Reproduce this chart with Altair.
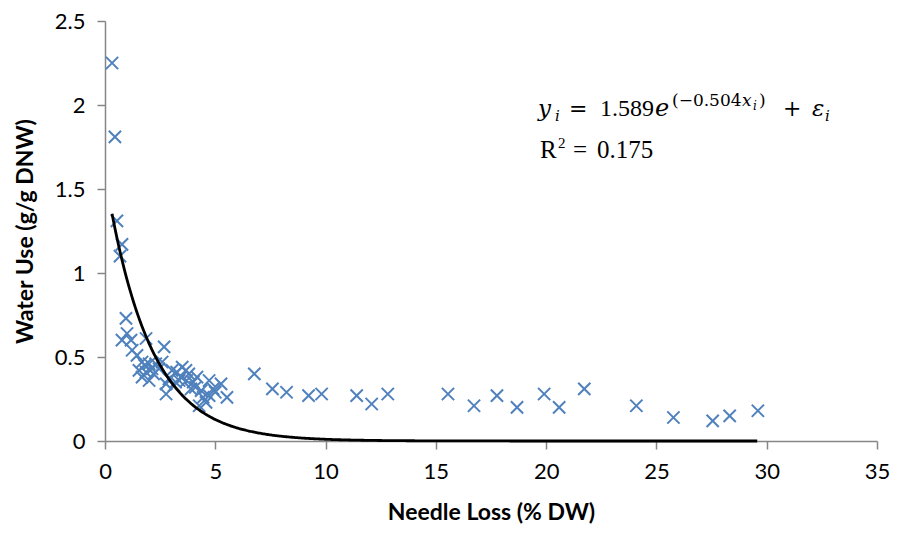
import altair as alt
import pandas as pd

# Data
needle_loss = [0.32, 0.45, 0.54, 0.77, 0.68, 0.95,
               1.00, 0.77, 1.18, 1.86, 2.68, 1.23, 1.45,
               1.68, 2.00, 2.30, 1.54, 1.86, 2.13, 2.45,
               1.68, 2.00, 3.04, 2.77, 3.13, 2.77, 2.59,
               3.25, 3.50, 3.80, 4.17, 2.90, 3.36, 4.72, 5.26, 3.90, 4.36, 4.72, 5.53,
               4.27, 4.58, 3.67, 3.45, 4.00, 4.90, 5.00, 4.45, 3.20, 2.20, 1.80, 4.10, 3.70,
               6.77, 7.59, 8.23, 9.23, 9.82, 11.41, 12.09, 12.82, 15.55, 16.73,
               17.77, 18.68, 19.91, 20.59, 21.73, 24.09, 25.77, 27.55, 28.32, 29.60]
water_use = [2.25, 1.81, 1.31, 1.17, 1.10, 0.73,
             0.64, 0.60, 0.60, 0.61, 0.56, 0.54, 0.51,
             0.47, 0.46, 0.46, 0.42, 0.41, 0.43, 0.43,
             0.38, 0.36, 0.42, 0.34, 0.33, 0.28, 0.47,
             0.41, 0.44, 0.40, 0.38, 0.37, 0.36, 0.36, 0.34, 0.31, 0.30, 0.27, 0.26,
             0.21, 0.23, 0.42, 0.38, 0.35, 0.31, 0.29, 0.26, 0.35, 0.40, 0.45, 0.32, 0.36,
             0.40, 0.31, 0.29, 0.27, 0.28, 0.27, 0.22, 0.28, 0.28, 0.21,
             0.27, 0.20, 0.28, 0.20, 0.31, 0.21, 0.14, 0.12, 0.15, 0.18]

# Fitted model shown on the chart: y = A * exp(B * x)
fit_A = 1.589
fit_B = -0.504

x_ticks = [0, 5, 10, 15, 20, 25, 30, 35]
y_ticks = [0, 0.5, 1, 1.5, 2, 2.5]

df = pd.DataFrame({"x": needle_loss, "y": water_use})

BLUE = "#4F81BD"
AXIS_GRAY = "#868686"
FONT = "Lato"

x_scale = alt.Scale(domain=[0, 35], nice=False)
y_scale = alt.Scale(domain=[0, 2.5], nice=False)

x_axis = alt.Axis(values=x_ticks, title="Needle Loss (% DW)", grid=False, format="~g",
                  labelFontSize=22, titleFontSize=23, titleFontWeight="bold",
                  titlePadding=19, labelPadding=12, tickSize=8, labelFlush=False)
y_axis = alt.Axis(values=y_ticks, title="Water Use (g/g DNW)", grid=False, format="~g",
                  labelFontSize=22, titleFontSize=23, titleFontWeight="bold",
                  titlePadding=17, labelPadding=12, tickSize=8, labelFlush=False)

X_PATH = "M-1,-1L1,1M-1,1L1,-1"

points = alt.Chart(df).mark_point(
    shape=X_PATH, filled=False, color=BLUE, size=150, strokeWidth=2, opacity=1
).encode(
    x=alt.X("x:Q", scale=x_scale, axis=x_axis),
    y=alt.Y("y:Q", scale=y_scale, axis=y_axis),
)

curve = alt.Chart(
    alt.sequence(start=min(needle_loss), stop=max(needle_loss), step=0.05, as_="x")
).transform_calculate(
    y=f"{fit_A} * exp({fit_B} * datum.x)"
).mark_line(color="black", strokeWidth=2.8).encode(
    x=alt.X("x:Q", scale=x_scale, axis=x_axis),
    y=alt.Y("y:Q", scale=y_scale, axis=y_axis),
)


def label(text, px, py, size, font="DejaVu Serif", style="normal", align="left"):
    return alt.Chart().mark_text(
        text=text, font=font, fontSize=size, fontStyle=style,
        align=align, baseline="alphabetic", color="black"
    ).encode(x=alt.value(px), y=alt.value(py))


MATH = "DejaVu Serif"
TIMES = "Liberation Serif"
eq = [
    label("y", 433, 95, 23, MATH, "italic"),
    label("i", 450, 100, 15, MATH, "italic"),
    label("=", 464, 95, 22, MATH),
    label("1.589", 495, 95, 24, TIMES),
    label("e", 550, 95, 24, MATH, "italic"),
    label("(−0.504", 567, 85, 17, MATH),
    label("x", 637, 85, 17, MATH, "italic"),
    label("i", 648, 89, 12, MATH, "italic"),
    label(")", 654, 85, 17, MATH),
    label("+", 678, 95, 22, MATH),
    label("ε", 707, 95, 23, MATH, "italic"),
    label("i", 720, 100, 15, MATH, "italic"),
    label("R", 435, 137, 25, TIMES),
    label("2", 453, 127, 15, TIMES),
    label("=", 468, 137, 25, TIMES),
    label("0.175", 492, 137, 25, TIMES),
]

chart = alt.layer(points, curve, *eq).properties(
    width=772, height=420,
    autosize=alt.AutoSizeParams(type="none"),
    padding={"left": 97, "top": 13, "right": 23, "bottom": 84},
).configure_axis(
    domainColor=AXIS_GRAY, tickColor=AXIS_GRAY, domainWidth=1.5, tickWidth=1.5,
    labelFont=FONT, titleFont=FONT, labelColor="black", titleColor="black",
).configure_view(stroke=None)

chart.save("out.html", embed_options={"renderer": "svg", "actions": False})
